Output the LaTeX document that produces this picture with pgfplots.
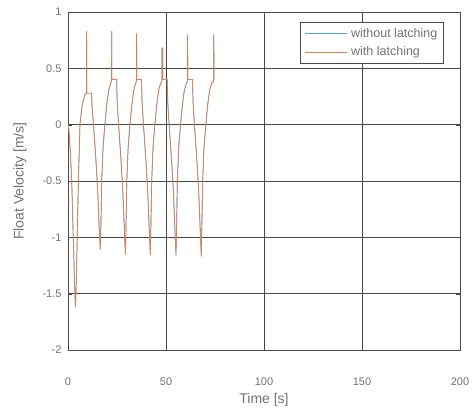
\documentclass[border=0pt]{standalone}
\usepackage{pgfplots}
\pgfplotsset{compat=1.18}
\usepackage{fontspec}
\setmainfont{Liberation Sans}
\definecolor{mblue}{RGB}{80,165,205}
\definecolor{morange}{RGB}{222,125,80}
\definecolor{txtgray}{RGB}{115,115,115}
\begin{document}
\begin{tikzpicture}
\begin{axis}[
  scale only axis,
  width=392pt, height=338pt,
  xmin=0, xmax=200, ymin=-2, ymax=1,
  xtick={0,50,100,150,200},
  ytick={-2,-1.5,-1,-0.5,0,0.5,1},
  yticklabels={-2,-1.5,-1,-0.5,0,0.5,1},
  grid=major,
  major grid style={draw=black!72, line width=0.9pt},
  axis line style={draw=black!70, line width=0.7pt},
  tick style={draw=black!70},
  tick align=inside,
  ticklabel style={font=\fontsize{11}{13}\selectfont, text=txtgray},
  xticklabel style={anchor=center, yshift=-32pt},
  yticklabel style={anchor=east, xshift=-3pt},
  /pgf/number format/assume math mode=true,
  xlabel={Time [s]}, ylabel={Float Velocity [m/s]},
  label style={font=\fontsize{14}{16}\selectfont, text=txtgray},
  xlabel style={at={(axis description cs:0.5,-0.148)}, anchor=center},
  ylabel style={at={(axis description cs:-0.1225,0.5)}, anchor=center},
  legend style={at={(0.958,0.970)}, anchor=north east, draw=black!70, font=\fontsize{12.5}{15}\selectfont, text=txtgray, cells={anchor=west}, row sep=4pt, column sep=2pt, inner xsep=4pt, inner ysep=4pt},
  legend image code/.code={\draw[#1] (0pt,0pt) -- (42pt,0pt);},
  legend cell align=left,
]
\addplot[mblue, line width=0.7pt] coordinates {
(0,0) (0.5,-0.05) (1.2,-0.25) (1.9,-0.5) (2.7,-1.0) (3.3,-1.4) (3.8,-1.62) (4.2,-1.4) (4.7,-1.0) (5.3,-0.5) (6.1,0) (7.2,0.17) (8.7,0.27) (9.4,0.28)
(9.5,0.83) (9.6,0.28) (12.0,0.28) (12.3,0.15) (13.0,0) (14.2,-0.3) (15.2,-0.6) (16.0,-0.95) (16.5,-1.11) (16.8,-0.9) (17.2,-0.5) (17.9,-0.2) (18.8,0) (19.8,0.18) (20.7,0.3) (21.8,0.37) (22.2,0.38)
(22.3,0.83) (22.4,0.4) (24.8,0.4) (25.1,0.2) (25.8,0) (27.0,-0.3) (28.0,-0.6) (28.8,-0.95) (29.3,-1.15) (29.6,-0.9) (30.0,-0.5) (30.7,-0.2) (31.6,0) (32.6,0.18) (33.5,0.3) (34.5,0.37) (34.9,0.38)
(35.0,0.81) (35.1,0.4) (37.5,0.4) (37.8,0.2) (38.5,0) (39.7,-0.3) (40.7,-0.6) (41.5,-0.95) (42.0,-1.16) (42.3,-0.9) (42.7,-0.5) (43.4,-0.2) (44.3,0) (45.3,0.18) (46.2,0.3) (47.3,0.37) (47.9,0.38)
(48.0,0.68) (48.3,0.68) (48.4,0.4) (50.6,0.4) (50.9,0.2) (51.6,0) (52.8,-0.3) (53.8,-0.6) (54.6,-0.95) (55.1,-1.16) (55.4,-0.9) (55.8,-0.5) (56.5,-0.2) (57.4,0) (58.4,0.18) (59.3,0.3) (60.4,0.37) (60.9,0.38)
(61.0,0.8) (61.1,0.4) (63.5,0.4) (63.8,0.2) (64.5,0) (65.7,-0.3) (66.7,-0.6) (67.5,-0.95) (68.0,-1.17) (68.3,-0.9) (68.7,-0.5) (69.4,-0.2) (70.3,0) (71.3,0.18) (72.2,0.3) (73.3,0.37) (74.3,0.38) (74.4,0.8) (74.5,0.4)
};
\addlegendentry{without latching}
\addplot[morange, line width=0.7pt] coordinates {
(0,0) (0.5,-0.05) (1.2,-0.25) (1.9,-0.5) (2.7,-1.0) (3.3,-1.4) (3.8,-1.62) (4.2,-1.4) (4.7,-1.0) (5.3,-0.5) (6.1,0) (7.2,0.17) (8.7,0.27) (9.4,0.28)
(9.5,0.83) (9.6,0.28) (12.0,0.28) (12.3,0.15) (13.0,0) (14.2,-0.3) (15.2,-0.6) (16.0,-0.95) (16.5,-1.11) (16.8,-0.9) (17.2,-0.5) (17.9,-0.2) (18.8,0) (19.8,0.18) (20.7,0.3) (21.8,0.37) (22.2,0.38)
(22.3,0.83) (22.4,0.4) (24.8,0.4) (25.1,0.2) (25.8,0) (27.0,-0.3) (28.0,-0.6) (28.8,-0.95) (29.3,-1.15) (29.6,-0.9) (30.0,-0.5) (30.7,-0.2) (31.6,0) (32.6,0.18) (33.5,0.3) (34.5,0.37) (34.9,0.38)
(35.0,0.81) (35.1,0.4) (37.5,0.4) (37.8,0.2) (38.5,0) (39.7,-0.3) (40.7,-0.6) (41.5,-0.95) (42.0,-1.16) (42.3,-0.9) (42.7,-0.5) (43.4,-0.2) (44.3,0) (45.3,0.18) (46.2,0.3) (47.3,0.37) (47.9,0.38)
(48.0,0.68) (48.3,0.68) (48.4,0.4) (50.6,0.4) (50.9,0.2) (51.6,0) (52.8,-0.3) (53.8,-0.6) (54.6,-0.95) (55.1,-1.16) (55.4,-0.9) (55.8,-0.5) (56.5,-0.2) (57.4,0) (58.4,0.18) (59.3,0.3) (60.4,0.37) (60.9,0.38)
(61.0,0.8) (61.1,0.4) (63.5,0.4) (63.8,0.2) (64.5,0) (65.7,-0.3) (66.7,-0.6) (67.5,-0.95) (68.0,-1.17) (68.3,-0.9) (68.7,-0.5) (69.4,-0.2) (70.3,0) (71.3,0.18) (72.2,0.3) (73.3,0.37) (74.3,0.38) (74.4,0.8) (74.5,0.4)
};
\addlegendentry{with latching}
\end{axis}
\pgfresetboundingbox
\path ([shift={(-68pt,-66pt)}]current axis.south west) rectangle ([shift={(12pt,12pt)}]current axis.north east);
\end{tikzpicture}
\end{document}
